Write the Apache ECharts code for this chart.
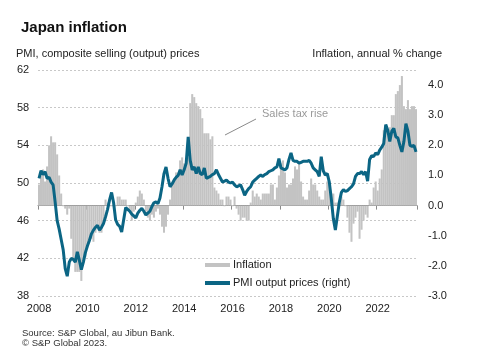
<!DOCTYPE html>
<html>
<head>
<meta charset="utf-8">
<script src="https://cdn.jsdelivr.net/npm/echarts@6/dist/echarts.min.js"></script>
<style>
html,body{margin:0;padding:0;background:#fff;}
#chart{width:478px;height:356px;}
</style>
</head>
<body>
<div id="chart"></div>
<script>
// Monthly categories Jan 2008 .. Aug 2023
const startYear = 2008;
const monthCount = 188;
const months = [];
for (let i = 0; i < monthCount; i++) {
  const y = startYear + Math.floor(i / 12);
  const m = (i % 12) + 1;
  months.push(y + '-' + (m < 10 ? '0' + m : '' + m));
}

// Inflation, annual % change (bars, right axis)
const inflation = [
  0.7, 1.0, 1.2, 0.8, 1.3, 2.0, 2.3, 2.1, 2.1, 1.7, 1.0, 0.4,
  0.0, -0.1, -0.3, -0.1, -1.1, -1.8, -2.2, -2.2, -2.2, -2.5, -1.9, -1.7,
  -1.3, -1.1, -1.1, -1.2, -0.9, -0.7, -0.9, -0.9, -0.6, 0.2, 0.1, 0.0,
  0.0, 0.0, 0.0, 0.3, 0.3, 0.2, 0.2, 0.2, 0.0, -0.2, -0.5, -0.2,
  0.1, 0.3, 0.5, 0.4, 0.2, -0.2, -0.4, -0.5, -0.3, -0.4, -0.2, -0.1,
  -0.3, -0.7, -0.9, -0.7, -0.3, 0.2, 0.7, 0.9, 1.1, 1.1, 1.5, 1.6,
  1.4, 1.5, 1.6, 3.4, 3.7, 3.6, 3.4, 3.3, 3.2, 2.9, 2.4, 2.4,
  2.4, 2.2, 2.3, 0.6, 0.5, 0.4, 0.2, 0.2, 0.0, 0.3, 0.3, 0.2,
  0.0, 0.3, -0.1, -0.3, -0.5, -0.4, -0.4, -0.5, -0.5, 0.1, 0.5, 0.3,
  0.4, 0.3, 0.2, 0.4, 0.4, 0.4, 0.4, 0.7, 0.7, 0.2, 0.6, 1.0,
  1.4, 1.5, 1.1, 0.6, 0.7, 0.7, 0.9, 1.3, 1.2, 1.4, 0.8, 0.3,
  0.2, 0.2, 0.5, 0.9, 0.7, 0.7, 0.5, 0.3, 0.2, 0.2, 0.5, 0.8,
  0.7, 0.4, 0.4, 0.1, 0.1, 0.1, 0.3, 0.2, 0.0, -0.4, -0.9, -1.2,
  -0.6, -0.4, -0.2, -1.1, -0.8, -0.5, -0.3, -0.4, 0.2, 0.1, 0.6, 0.8,
  0.5, 0.9, 1.2, 2.5, 2.5, 2.4, 2.6, 3.0, 3.0, 3.7, 3.8, 4.0,
  4.3, 3.3, 3.2, 3.5, 3.2, 3.3, 3.3, 3.2
];

// PMI, composite selling (output) prices (line, left axis)
const pmiOutput = [
  50.5, 51.3, 50.9, 51.2, 50.5, 50.6, 50.1, 49.8, 48.0, 46.0, 45.1, 44.0,
  42.9, 40.9, 40.1, 41.6, 42.0, 41.9, 41.6, 42.7, 41.8, 40.8, 41.6, 42.6,
  43.3, 43.9, 44.6, 45.0, 45.3, 45.5, 45.0, 45.3, 45.7, 46.4, 47.2, 48.2,
  49.0, 47.9, 46.1, 45.6, 45.4, 44.8, 46.1, 47.4, 47.2, 47.0, 46.7, 46.5,
  46.3, 46.8, 47.1, 47.3, 47.0, 46.6, 46.8, 47.0, 47.5, 47.9, 48.0, 47.8,
  48.4, 49.6, 51.0, 51.7, 50.5, 49.6, 49.9, 50.3, 50.6, 50.8, 51.4, 50.85,
  51.4, 52.1, 54.9, 52.4, 51.4, 51.7, 51.0, 51.7, 51.0, 50.9, 51.6, 50.5,
  50.6, 50.7, 50.9, 51.0, 51.4, 50.9, 50.5, 50.1, 50.2, 50.3, 50.1, 50.0,
  50.1, 49.8, 49.6, 49.7, 49.8, 49.3, 48.7, 49.1, 49.4, 49.6, 50.1, 50.3,
  50.5, 50.7, 50.85, 50.7, 50.9, 51.0, 51.2, 51.3, 51.4, 51.6, 51.7, 52.6,
  51.6, 51.5, 51.4, 51.6, 52.5, 53.2, 52.4, 52.3, 52.3, 52.1, 52.2, 52.3,
  52.3, 52.3, 52.4, 52.1, 51.6, 51.4, 51.2, 50.7, 52.8, 51.3, 50.85, 51.0,
  50.1, 48.3, 46.2, 45.0, 46.5, 48.0, 49.0, 49.3, 49.1, 49.2, 49.4, 49.6,
  49.9, 50.7, 51.0, 51.0, 51.2, 50.9, 51.2, 50.2, 52.5, 52.9, 52.8, 53.2,
  53.0, 53.5, 53.8, 54.2, 56.2, 55.6, 54.4, 55.5, 55.8, 54.9, 54.8, 54.0,
  53.3, 54.4, 56.3, 55.5, 54.0, 53.9, 54.0, 53.3
];

const leftTicks = { min: 38, max: 62, interval: 4 };
const rightTicks = { min: -3, max: 4.5, interval: 1 };

const FONT = '"Liberation Sans", Arial, sans-serif';
const chart = echarts.init(document.getElementById('chart'), null, { renderer: 'canvas' });

function yearTick(index, value) {
  return value.slice(5) === '01' && (+value.slice(0, 4)) % 2 === 0;
}

chart.setOption({
  animation: false,
  backgroundColor: '#fff',
  textStyle: { fontFamily: FONT },
  title: {
    text: 'Japan inflation',
    left: 16, top: 15,
    textStyle: { fontFamily: FONT, fontSize: 15, fontWeight: 'bold', color: '#111' }
  },
  grid: { left: 38, right: 61, top: 70, bottom: 60, containLabel: false },
  legend: {
    orient: 'vertical',
    left: 205, top: 259,
    itemWidth: 25, itemHeight: 4, itemGap: 6,
    backgroundColor: '#fff',
    padding: [0, 2, 0, 0],
    textStyle: { fontFamily: FONT, fontSize: 11, color: '#222', lineHeight: 12, padding: [0, 0, 0, -2] },
    data: [
      { name: 'Inflation', icon: 'rect', itemStyle: { borderWidth: 0 } },
      { name: 'PMI output prices (right)', icon: 'rect' }
    ]
  },
  xAxis: {
    type: 'category',
    data: months,
    boundaryGap: true,
    axisLine: { show: true, lineStyle: { color: '#8a8a8a', width: 1 } },
    axisTick: { show: true, length: 4, interval: yearTick, lineStyle: { color: '#8a8a8a' } },
    axisLabel: {
      interval: yearTick,
      formatter: v => v.slice(0, 4),
      fontFamily: FONT, fontSize: 11, color: '#222', margin: 7
    },
    splitLine: { show: false }
  },
  yAxis: [
    {
      type: 'value',
      min: leftTicks.min, max: leftTicks.max, interval: leftTicks.interval,
      axisLine: { show: false },
      axisTick: { show: false },
      axisLabel: { align: 'left', margin: 21, fontFamily: FONT, fontSize: 11, color: '#222' },
      splitLine: { show: true, lineStyle: { color: '#c8c8c8', type: [2, 2], width: 1 } }
    },
    {
      type: 'value',
      min: rightTicks.min, max: rightTicks.max, interval: rightTicks.interval,
      axisLine: { show: false },
      axisTick: { show: false },
      axisLabel: {
        align: 'left', margin: 11, fontFamily: FONT, fontSize: 11, color: '#222',
        formatter: v => (Math.abs(v - Math.round(v)) < 1e-9 ? v.toFixed(1) : '')
      },
      splitLine: { show: false }
    }
  ],
  series: [
    {
      name: 'Inflation',
      type: 'bar',
      yAxisIndex: 1,
      data: inflation,
      barCategoryGap: '0%',
      large: false,
      itemStyle: { color: '#c3c3c3', borderColor: '#c3c3c3', borderWidth: 1.2 },
      z: 1
    },
    {
      name: 'PMI output prices (right)',
      type: 'line',
      yAxisIndex: 0,
      data: pmiOutput,
      showSymbol: false,
      symbol: 'none',
      itemStyle: { color: '#0b6584' },
      lineStyle: { color: '#0b6584', width: 3 },
      z: 3
    }
  ],
  graphic: [
    {
      type: 'text', left: 16, top: 48,
      style: { text: 'PMI, composite selling (output) prices', font: '11px ' + FONT, fill: '#222' }
    },
    {
      type: 'text', right: 36, top: 48,
      style: { text: 'Inflation, annual % change', font: '11px ' + FONT, fill: '#222', textAlign: 'right' }
    },
    {
      type: 'text', left: 262, top: 108,
      style: { text: 'Sales tax rise', font: '11px ' + FONT, fill: '#9a9a9a' }
    },
    {
      type: 'line',
      shape: { x1: 225, y1: 135, x2: 256, y2: 119 },
      style: { stroke: '#8a8a8a', lineWidth: 1 }
    },
    {
      type: 'text', left: 22, top: 328,
      style: { text: 'Source: S&P Global, au Jibun Bank.', font: '9.5px ' + FONT, fill: '#333' }
    },
    {
      type: 'text', left: 22, top: 338,
      style: { text: '\u00A9 S&P Global 2023.', font: '9.5px ' + FONT, fill: '#333' }
    }
  ]
});
</script>
</body>
</html>
